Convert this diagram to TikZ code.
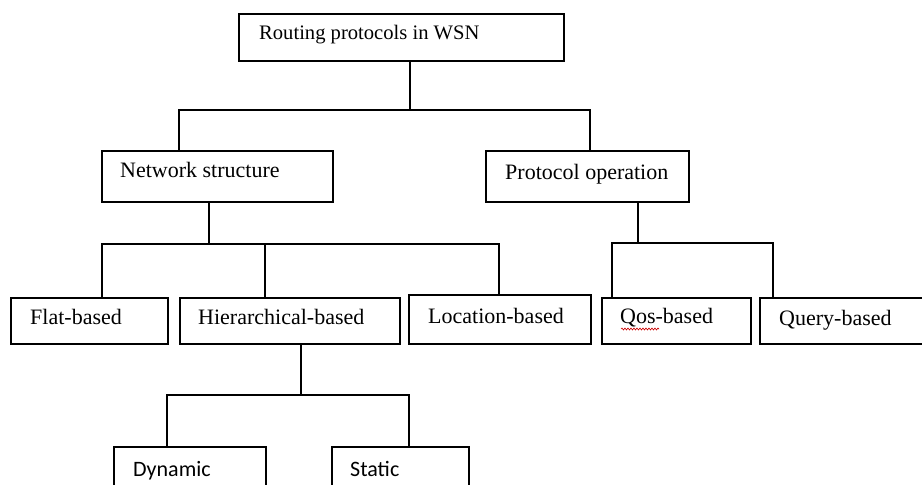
\documentclass[tikz,border=0pt]{standalone}
\usepackage{fontspec}
\setmainfont{Liberation Serif}
\newfontfamily\calibrilike{Carlito}
\usetikzlibrary{decorations.pathmorphing}
\tikzset{
  box/.style={draw=black, line width=1.6pt, inner sep=0pt, anchor=north west},
  lbl/.style={anchor=base west, inner sep=0pt, font=\fontsize{22}{26}\selectfont},
  tlbl/.style={anchor=base west, inner sep=0pt, font=\fontsize{20.6}{24}\selectfont},
  slbl/.style={anchor=base west, inner sep=0pt, font=\calibrilike\fontsize{22}{26}\selectfont},
  conn/.style={draw=black, line width=1.4pt},
}
\begin{document}
\begin{tikzpicture}[x=1pt,y=-1pt]
\useasboundingbox (0,0) rectangle (922,485);
\clip (0,0) rectangle (922,485);
\fill[white] (0,0) rectangle (922,485);
% boxes
\node[box, minimum width=325pt, minimum height=47pt] (root) at (238,13) {};
\node[box, minimum width=231pt, minimum height=51pt] (net) at (101,150) {};
\node[box, minimum width=203pt, minimum height=51pt] (prot) at (485,150) {};
\node[box, minimum width=157pt, minimum height=46pt] (flat) at (10,297) {};
\node[box, minimum width=220pt, minimum height=46pt] (hier) at (179,297) {};
\node[box, minimum width=182pt, minimum height=49pt] (loc) at (408,294) {};
\node[box, minimum width=149pt, minimum height=46pt] (qos) at (601,297) {};
\node[box, minimum width=190pt, minimum height=46pt] (query) at (759,297) {};
\node[box, minimum width=152pt, minimum height=60pt] (dyn) at (113,446) {};
\node[box, minimum width=137pt, minimum height=60pt] (stat) at (331,446) {};
% labels
\node[tlbl] (rootT) at (259,39) {Routing protocols in WSN};
\node[lbl] (netT) at (120,177) {Network structure};
\node[lbl] (protT) at (505,179) {Protocol operation};
\node[lbl] (flatT) at (30,324) {Flat-based};
\node[lbl] (hierT) at (198,324) {Hierarchical-based};
\node[lbl] (locT) at (428,323) {Location-based};
\node[lbl] (qosT) at (620,323) {Qos-based};
\node[lbl] (queryT) at (779,325) {Query-based};
\node[slbl] (dynT) at (133,476) {Dynamic};
\node[slbl] (statT) at (350,476) {Static};
% spell-check underline under "Qos"
\coordinate (qu1) at (621,329);
\coordinate (qu2) at (659,329);
\draw[red!80!black, line width=0.6pt, decorate, decoration={snake, amplitude=1pt, segment length=3pt}] (qu1) -- (qu2);
% connectors level 1
\coordinate (rj) at (410,110);
\coordinate (nL) at (179,110);
\coordinate (pR) at (590,110);
\draw[conn] (root.south -| rj) -- (rj);
\draw[conn] (net.north -| nL) -- (nL) -- (pR) -- (prot.north -| pR);
% level 2 network
\coordinate (nb) at (209,244);
\coordinate (fb) at (102,244);
\coordinate (hb) at (265,244);
\coordinate (lb) at (499,244);
\draw[conn] (net.south -| nb) -- (nb);
\draw[conn] (flat.north -| fb) -- (fb) -- (lb) -- (loc.north -| lb);
\draw[conn] (hb) -- (hier.north -| hb);
% level 2 protocol
\coordinate (pb) at (638,243);
\coordinate (qb) at (612,243);
\coordinate (yb) at (773,243);
\draw[conn] (prot.south -| pb) -- (pb);
\draw[conn] (qos.north -| qb) -- (qb) -- (yb) -- (query.north -| yb);
% level 3 hierarchical
\coordinate (hj) at (301,395);
\coordinate (dj) at (167,395);
\coordinate (sj) at (409,395);
\draw[conn] (hier.south -| hj) -- (hj);
\draw[conn] (dyn.north -| dj) -- (dj) -- (sj) -- (stat.north -| sj);
\end{tikzpicture}
\end{document}
